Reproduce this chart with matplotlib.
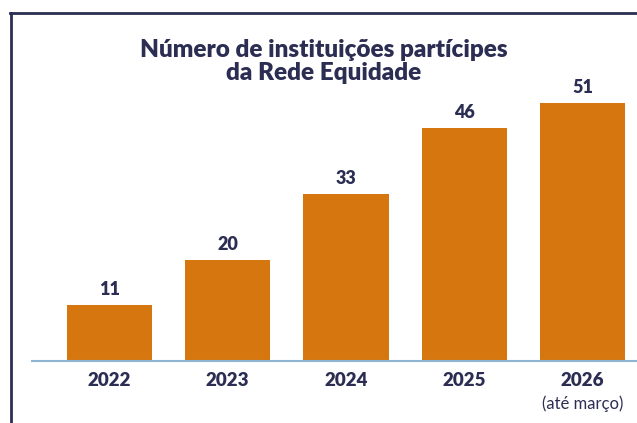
import matplotlib.pyplot as plt
from matplotlib.lines import Line2D

# data
years = ["2022", "2023", "2024", "2025", "2026"]
counts = [11, 20, 33, 46, 51]
sub_labels = ["", "", "", "", "(até março)"]

bar_color = "#d5760f"
navy = "#2b2e52"
base_color = "#8db5d1"

plt.rcParams['font.family'] = ['Lato', 'DejaVu Sans']

fig = plt.figure(figsize=(6.37, 4.23), dpi=100)
ax = fig.add_axes([0.05, 0.1466, 0.95, 0.735])

x = range(len(years))
ax.bar(x, counts, width=0.72, color=bar_color, zorder=2)
ax.set_xlim(-0.655, 4.46)
ax.set_ylim(0, 61.5)

for xi, v in zip(x, counts):
    ax.annotate(str(v), (xi, v), xytext=(0, 5), textcoords="offset points",
                ha="center", va="bottom", fontsize=13, fontweight="heavy", color=navy)

ax.set_xticks(list(x))
ax.set_xticklabels(years, fontsize=13.5, fontweight="heavy", color=navy)
ax.tick_params(axis="x", length=0, pad=8)
ax.set_yticks([])
for s in ["top", "right", "left"]:
    ax.spines[s].set_visible(False)
ax.spines["bottom"].set_color(base_color)
ax.spines["bottom"].set_linewidth(1.5)

for xi, s in zip(x, sub_labels):
    if s:
        ax.annotate(s, (xi, 0), xytext=(0, -25), textcoords="offset points",
                    ha="center", va="top", fontsize=12, color=navy)

fig.text(0.508, 0.855, "Número de instituições partícipes\nda Rede Equidade",
         ha="center", va="center", fontsize=17.5, fontweight="heavy", color=navy,
         linespacing=1.05)

# frame (top and left edges)
fig.add_artist(Line2D([10 / 637, 1], [1 - 13 / 423, 1 - 13 / 423],
                      transform=fig.transFigure, color=navy, lw=2))
fig.add_artist(Line2D([11 / 637, 11 / 637], [0, 1 - 13 / 423],
                      transform=fig.transFigure, color=navy, lw=2))

fig.savefig("out.png", dpi=100)
